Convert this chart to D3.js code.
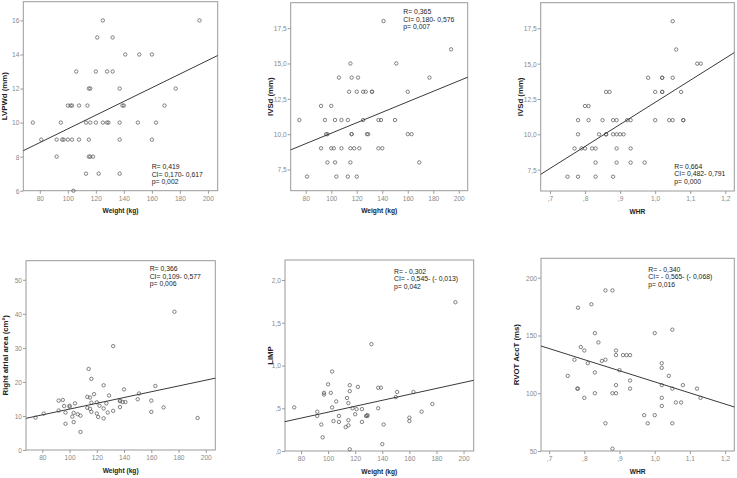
<!DOCTYPE html>
<html><head><meta charset="utf-8">
<script src="https://cdn.jsdelivr.net/npm/d3@7"></script>
<style>body{margin:0;background:#fff}svg{display:block}</style>
</head><body>
<svg id="c" width="737" height="478"></svg>
<script>
// ---------- DATA ----------
const weightTicks = [80, 100, 120, 140, 160, 180, 200];
const weightTickLabels = ["80", "100", "120", "140", "160", "180", "200"];
const whrTicks = [0.7, 0.8, 0.9, 1.0, 1.1, 1.2];
const whrTickLabels = [",7", ",8", ",9", "1,0", "1,1", "1,2"];

// Panel 1: LVPWd vs weight
const p1Weight = [75,81,92,92,95,96,97,100,102,103,100,103,104,106,108,108,113,113,114,115,116,115,115,116,118,116,120,121,120,122,125,125,128,129,128,132,132,137,137,137,137,139,140,141,150,151,160,160,163,169,177,194];
const p1LVPWd  = [10,9,9,8,10,9,9,11,11,11,9,9,6,13,11,9,10,7,11,12,12,9,8,8,8,10,13,15,10,7,16,10,10,10,13,15,13,12,10,9,7,11,11,14,10,14,14,9,10,11,12,16];
const p1Ticks = [6, 8, 10, 12, 14, 16];
const p1TickLabels = ["6", "8", "10", "12", "14", "16"];
const p1Fit = [[68.2, 8.35], [207, 13.94]];
const p1Stats = ["R= 0,419", "CI= 0,170- 0,617", "p= 0,002"];

// Panel 2: IVSd vs weight
const p2Weight = [75,81,92,92,95,96,97,97,100,100,102,103,103,104,106,108,108,113,113,114,115,115,115,116,116,116,118,120,120,121,122,125,127,125,128,129,132,132,137,139,137,140,141,150,151,160,160,163,169,177,194];
const p2IVSd   = [11,7,12,9,11,10,10,8,12,9,9,11,8,7,14,11,9,11,7,13,15,8,9,14,10,10,9,7,13,14,9,13,13,11,10,10,13,13,11,11,9,9,18,11,15,13,10,10,8,14,16];
const ivsdTicks = [7.5, 10, 12.5, 15, 17.5];
const ivsdTickLabels = ["7,5", "10,0", "12,5", "15,0", "17,5"];
const p2Fit = [[68.2, 8.89], [207, 14.03]];
const p2Stats = ["R= 0,365", "CI= 0,180- 0,576", "p= 0,007"];

// Panel 3: IVSd vs WHR
const p3WHR  = [0.75,0.78,0.83,0.88, 0.83,0.89,0.93,0.97, 0.77,0.79,0.80,0.82,0.83,0.89,0.93, 0.78,0.84,0.86,0.86,0.88,0.89,0.90,0.91, 0.78,0.81,0.85,0.88,0.89,0.92,0.93,1.00,1.04,1.05,1.08,1.08, 0.80,0.81, 0.86,0.87,1.00,1.02,1.02,1.074, 0.98,1.02,1.02,1.05, 1.12,1.13, 1.06, 1.05];
const p3IVSd = [7,7,7,7, 8,8,8,8, 9,9,9,9,9,9,9, 10,10,10,10,10,10,10,10, 11,11,11,11,11,11,11,11,11,11,11,11, 12,12, 13,13,13,13,13,13, 14,14,14,14, 15,15, 16, 18];
const p3Fit = [[0.6735, 7.17], [1.2257, 15.78]];
const p3Stats = ["R= 0,664", "CI= 0,482- 0,791", "p= 0,000"];

// Panel 4: Right atrial area vs weight
const p4Weight = [75,81,92,92,95,96,97,97,100,100,102,103,103,104,106,108,108,113,113,114,115,115,116,116,116,118,120,120,121,122,125,125,125,127,128,129,132,132,137,137,137,139,140,141,150,151,160,160,163,169,177,194];
const p4RAArea = [9.5,10.7,14.5,11.6,14.7,12.9,11.0,7.7,13.0,12.7,9.8,8.2,10.9,13.7,10.5,5.3,10.1,15.6,12.4,23.8,15.4,12.1,20.9,13.9,11.2,16.4,14.0,10.7,9.7,13.0,19.0,12.2,9.3,13.7,11.0,16.0,30.5,11.5,14.6,14.3,12.6,14.1,17.8,14.1,14.9,16.6,14.5,11.2,18.8,12.5,40.6,9.4];
const p4Ticks = [0, 10, 20, 30, 40, 50];
const p4TickLabels = ["0", "10", "20", "30", "40", "50"];
const p4Fit = [[68, 9.30], [207, 21.1]];
const p4Stats = ["R= 0,366", "CI= 0,109- 0,577", "p= 0,006"];

// Panel 5: LIMP vs weight
const p5Weight = [75,92,92,95,96,97,97,100,102,103,103,104,106,108,108,113,114,115,115,115,116,116,116,118,120,121,122,125,125,128,129,129,132,137,137,139,141,140,150,151,160,160,163,169,177,194];
const p5LIMP   = [0.51,0.46,0.41,0.31,0.16,0.68,0.66,0.78,0.68,0.93,0.51,0.35,0.58,0.41,0.34,0.28,0.62,0.56,0.36,0.30,0.77,0.70,0.02,0.50,0.43,0.49,0.75,0.49,0.34,0.41,0.42,0.41,1.25,0.50,0.74,0.74,0.31,0.08,0.63,0.69,0.39,0.35,0.69,0.46,0.55,1.74];
const p5Ticks = [0, 0.5, 1.0, 1.5, 2.0];
const p5TickLabels = [",0", ",5", "1,0", "1,5", "2,0"];
const p5Fit = [[68, 0.343], [207.5, 0.827]];
const p5Stats = ["R= - 0,302", "CI= - 0,545- (- 0,013)", "p= 0,042"];

// Panel 6: RVOT AccT vs WHR
const p6WHR  = [0.753,0.772,0.782,0.78,0.782,0.79,0.80,0.80,0.81,0.82,0.83,0.83,0.83,0.84,0.85,0.86,0.86,0.86,0.88,0.88,0.89,0.88,0.89,0.89,0.89,0.90,0.91,0.92,0.93,0.93,0.93,0.97,0.98,1.00,1.00,1.02,1.02,1.02,1.02,1.02,1.04,1.05,1.05,1.05,1.06,1.075,1.08,1.12,1.13];
const p6RVOT = [115,129,174,104,104,140,137,96,126,177,152,118,100,144,128,129,189,74,189,100,100,52,137,133,107,120,133,133,133,111,104,81,74,152,81,126,122,107,96,89,115,104,155,74,92,92,107,104,96];
const p6Ticks = [50, 100, 150, 200];
const p6TickLabels = ["50", "100", "150", "200"];
const p6Fit = [[0.677, 140.9], [1.226, 88.1]];
const p6Stats = ["R= - 0,340", "CI= - 0,565- (- 0,068)", "p= 0,016"];

// ---------- LAYOUT ----------
const FONT = "'Liberation Sans', Arial, sans-serif";
const svg = d3.select("#c");

const panels = [
  {x: p1Weight, y: p1LVPWd, frame: [23.3, 217.7, 1.7, 190.7], xd: [68.2, 207], yd: [6, 17.1],
   xt: weightTicks, xl: weightTickLabels, yt: p1Ticks, yl: p1TickLabels, fit: p1Fit, stats: p1Stats,
   statsPos: [151.7, 169], xTitle: "Weight (kg)", yTitle: "LVPWd (mm)", yTitleX: 6.5},
  {x: p2Weight, y: p2IVSd, frame: [290.7, 467.7, 2.7, 190.7], xd: [68.2, 207], yd: [6.0, 19.3],
   xt: weightTicks, xl: weightTickLabels, yt: ivsdTicks, yl: ivsdTickLabels, fit: p2Fit, stats: p2Stats,
   statsPos: [403.3, 14], xTitle: "Weight (kg)", yTitle: "IVSd (mm)", yTitleX: 272.5},
  {x: p3WHR, y: p3IVSd, frame: [540.7, 734.3, 2.7, 191], xd: [0.6735, 1.2257], yd: [5.99, 19.31],
   xt: whrTicks, xl: whrTickLabels, yt: ivsdTicks, yl: ivsdTickLabels, fit: p3Fit, stats: p3Stats,
   statsPos: [674.3, 168.5], xTitle: "WHR", yTitle: "IVSd (mm)", yTitleX: 522.5},
  {x: p4Weight, y: p4RAArea, frame: [26, 215.3, 260.7, 450], xd: [68, 207], yd: [0, 55.6],
   xt: weightTicks, xl: weightTickLabels, yt: p4Ticks, yl: p4TickLabels, fit: p4Fit, stats: p4Stats,
   statsPos: [149.7, 270.8], xTitle: "Weight (kg)", yTitle: "Right atrial area (cm²)", yTitleX: 7.5},
  {x: p5Weight, y: p5LIMP, frame: [285, 473.7, 260, 451], xd: [68.2, 207.5], yd: [0, 2.234],
   xt: weightTicks, xl: weightTickLabels, yt: p5Ticks, yl: p5TickLabels, fit: p5Fit, stats: p5Stats,
   statsPos: [394, 273.5], xTitle: "Weight (kg)", yTitle: "LIMP", yTitleX: 273.3},
  {x: p6WHR, y: p6RVOT, frame: [541, 734.3, 258.3, 451], xd: [0.677, 1.226], yd: [50, 216.8],
   xt: whrTicks, xl: whrTickLabels, yt: p6Ticks, yl: p6TickLabels, fit: p6Fit, stats: p6Stats,
   statsPos: [648.3, 271.5], xTitle: "WHR", yTitle: "RVOT AccT (ms)", yTitleX: 519.3}
];

function squeeze(sel, k) {
  sel.each(function() {
    const w = this.getComputedTextLength();
    d3.select(this).attr("textLength", w * k).attr("lengthAdjust", "spacingAndGlyphs");
  });
}

panels.forEach(p => {
  const [x0, x1, y0, y1] = p.frame;
  const xs = d3.scaleLinear().domain(p.xd).range([x0, x1]);
  const ys = d3.scaleLinear().domain(p.yd).range([y1, y0]);
  const g = svg.append("g");

  // frame
  g.append("rect").attr("x", x0).attr("y", y0).attr("width", x1 - x0).attr("height", y1 - y0)
    .attr("fill", "none").attr("stroke", "#9a9a9a").attr("stroke-width", 1);

  // axes
  const xa = g.append("g").attr("transform", `translate(0,${y1})`)
    .call(d3.axisBottom(xs).tickValues(p.xt).tickFormat((d, i) => p.xl[i]).tickSize(3).tickPadding(2));
  const ya = g.append("g").attr("transform", `translate(${x0},0)`)
    .call(d3.axisLeft(ys).tickValues(p.yt).tickFormat((d, i) => p.yl[i]).tickSize(3).tickPadding(1));
  [xa, ya].forEach(a => {
    a.select(".domain").remove();
    a.selectAll("line").attr("stroke", "#9a9a9a");
    a.selectAll("text").attr("fill", "#8a8a8a").style("font-family", FONT).style("font-size", "7.5px");
    squeeze(a.selectAll("text"), 0.88);
  });

  // points
  g.append("g").selectAll("circle").data(p.x.map((v, i) => [v, p.y[i]])).join("circle")
    .attr("cx", d => xs(d[0])).attr("cy", d => ys(d[1])).attr("r", 1.7)
    .attr("fill", "none").attr("stroke", "#5a5a5a").attr("stroke-width", 0.75);

  // fit line
  g.append("line").attr("x1", xs(p.fit[0][0])).attr("y1", ys(p.fit[0][1]))
    .attr("x2", xs(p.fit[1][0])).attr("y2", ys(p.fit[1][1]))
    .attr("stroke", "#3a3a3a").attr("stroke-width", 1);

  // stats
  const st = g.append("g").selectAll("text").data(p.stats).join("text")
    .attr("x", p.statsPos[0]).attr("y", (d, i) => p.statsPos[1] + i * 7.7)
    .style("font-family", FONT).style("font-size", "7.6px").attr("fill", "#1a1a1a").text(d => d);
  squeeze(st, 0.9);

  // x title
  const xt = g.append("text").attr("x", (x0 + x1) / 2).attr("y", y1 + 22.5).attr("text-anchor", "middle")
    .style("font-family", FONT).style("font-size", "7.8px").style("font-weight", "bold").attr("fill", "#222")
    .text(p.xTitle);
  squeeze(xt, 0.85);

  // y title
  g.append("text").attr("transform", `translate(${p.yTitleX},${(y0 + y1) / 2}) rotate(-90)`)
    .attr("text-anchor", "middle")
    .style("font-family", FONT).style("font-size", "7.8px").style("font-weight", "bold").attr("fill", "#222")
    .text(p.yTitle);
});
</script>
</body></html>
